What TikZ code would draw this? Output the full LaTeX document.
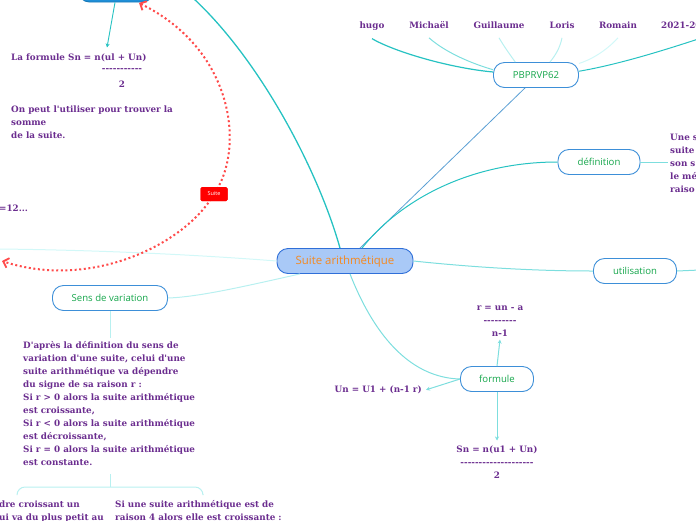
\documentclass[tikz,border=0pt]{standalone}
\usepackage{fontspec}
\newfontfamily\leaffont{DejaVu Serif}[Ligatures=TeXOff]
\newfontfamily\topicfont{Open Sans}
\usetikzlibrary{arrows.meta}
\definecolor{leafpurple}{HTML}{6B2D8F}
\definecolor{topicgreen}{HTML}{15A64B}
\definecolor{topicblue}{HTML}{3D8FD8}
\definecolor{centralfill}{HTML}{A9C9F7}
\definecolor{centralblue}{HTML}{2F6FD8}
\definecolor{centralorange}{HTML}{F5891F}
\definecolor{tealdark}{HTML}{26C2C2}
\definecolor{tealmid}{HTML}{7DDEDE}
\definecolor{teallight}{HTML}{B8F0F0}
\definecolor{tealpale}{HTML}{D2F8F8}
\definecolor{steel}{HTML}{5B9FD4}
\definecolor{relred}{HTML}{FF4A4A}
\definecolor{topfill}{HTML}{1E8FD8}
\tikzset{
	topic/.style={draw=topicblue,line width=0.9pt,fill=white,rounded corners=11pt,text=topicgreen,font=\topicfont\fontsize{9.6}{11}\selectfont,minimum height=25pt},
	central/.style={topic,fill=centralfill,draw=centralblue,text=centralorange,font=\topicfont\fontsize{11.4}{13}\selectfont},
	leaf/.style={text=leafpurple,font=\leaffont\bfseries\fontsize{8.8}{13}\selectfont,inner sep=0pt,align=left},
	branch/.style={line width=1pt},
	tip/.style={-{Stealth[length=4pt,width=4pt]}},
	rel/.style={draw=relred,line width=2pt,dash pattern=on 2pt off 2.6pt,{Straight Barb[length=5pt,width=10pt,line width=1.8pt]}-{Straight Barb[length=5pt,width=10pt,line width=1.8pt]}},
	tag/.style={fill=red,rounded corners=1.5pt,text=white,font=\topicfont\fontsize{5.5}{6}\selectfont,minimum width=27pt,minimum height=14pt,inner sep=0pt}
}

\begin{document}
\begin{tikzpicture}[x=1pt,y=-1pt]
\useasboundingbox (0,0) rectangle (696,520);
\clip (0,0) rectangle (696,520);
% topics
\node[central,minimum width=136pt] (suite) at (345,261) {Suite arithmétique};
\node[topic,minimum width=85pt] (pb) at (536,75) {PBPRVP62};
\node[topic,minimum width=82pt] (def) at (599,162) {définition};
\node[topic,minimum width=83pt] (util) at (635,271) {utilisation};
\node[topic,minimum width=73pt] (form) at (497,379) {formule};
\node[topic,minimum width=115pt] (sens) at (110,298) {Sens de variation};
\node[topic,fill=topfill,draw=topfill!85!black,minimum width=75pt,minimum height=28pt] (haut) at (116,-12) {};
\coordinate (hautout) at (193,-2);
\coordinate (leftout) at (-2,249);
\coordinate (utilout) at (700,270);
%
\foreach \nom/\x [count=\i] in {hugo/372,Michaël/429,Guillaume/499,Loris/562,Romain/618}
	\node[leaf,anchor=base] (n\i) at (\x,28.5) {\nom};
\node[leaf,anchor=base west] (n6) at (661,28.5) {2021-20};
%
\node[leaf,anchor=north west] (frmA) at (11,53.5) {La formule Sn = n(ul + Un)};
\node[leaf] (frmB) at (122,70) {-----------};
\node[leaf] (frmC) at (122,84) {2};
\node[leaf,anchor=north west] (frmD) at (11,105.5) {On peut l'utiliser pour trouver la\\somme\\de la suite.};
\node[leaf,anchor=west] (douze) at (-1,208) {=12...};
\node[leaf,anchor=north west] (deftxt) at (670,133.5) {Une s\\suite\\son s\\le mé\\raiso};
\node[leaf,anchor=north west] (vartxt) at (23,341.5) {D'après la définition du sens de\\variation d'une suite, celui d'une\\suite arithmétique va dépendre\\du signe de sa raison r :\\Si r > 0 alors la suite arithmétique\\est croissante,\\Si r < 0 alors la suite arithmétique\\est décroissante,\\Si r = 0 alors la suite arithmétique\\est constante.};
\node[leaf,anchor=north west] (ex1) at (-1,500.5) {dre croissant un\\ui va du plus petit au};
\node[leaf,anchor=north west] (ex2) at (115,500.5) {Si une suite arithmétique est de\\raison 4 alors elle est croissante :};
\node[leaf,align=center,anchor=north] (rform) at (500,305.5) {r = un - a\\---------\\n-1};
\node[leaf,anchor=base east] (unform) at (422,392.5) {Un = U1 + (n-1 r)};
\node[leaf,align=center,anchor=north] (snform) at (497,445.5) {Sn = n(u1 + Un)\\--------------------\\2};
%
\draw[branch,tealdark,line width=1.3pt] ([xshift=-5pt]suite.north) .. controls (318,170) and (260,60) .. (hautout);
\draw[branch,steel,line width=0.8pt] ([xshift=15pt]suite.north) to ([xshift=-11pt]pb.south);
\draw[branch,tealdark] ([xshift=17pt]suite.north) .. controls (400,200) and (470,162) .. (def.west);
\draw[branch,tealmid] (suite.east) .. controls (480,268) and (540,271) .. (util.west);
\draw[branch,teallight] ([xshift=-45pt]suite.south) .. controls (250,285) and (200,297) .. (sens.east);
\draw[branch,tealpale] (suite.west) .. controls (200,255) and (100,250) .. (leftout);
\draw[branch,tealmid] ([xshift=5pt]suite.south) .. controls (380,350) and (420,378) .. (form.west);
\draw[branch,tealmid] (util.east) to (utilout);
\draw[branch,tealmid] (def.east) to ([xshift=-2pt]deftxt.west |- def.east);
%
\draw[branch,tealdark,line width=1.2pt] ([yshift=-8pt]n1.south) .. controls (395,52) and (450,68) .. (pb.176);
\draw[branch,tealmid] ([yshift=-9pt]n2.south) .. controls (445,52) and (470,63) .. (pb.173);
\draw[branch,teallight] ([yshift=-9pt]n3.south) .. controls (505,48) and (511,56) .. (pb.148);
\draw[branch,teallight] ([yshift=-9pt]n4.south) .. controls (560,48) and (555,56) .. (pb.43);
\draw[branch,tealpale] ([yshift=-9pt]n5.south) .. controls (605,52) and (590,60) .. (pb.15);
\draw[branch,tealdark] ([yshift=-9pt]n6.south east) .. controls (650,55) and (610,66) .. (pb.5);
%
\draw[branch,tealmid,tip] (form.north) to ([yshift=-3pt]rform.south);
\draw[branch,tealmid,tip] (form.west) to ([xshift=4pt]unform.east);
\draw[branch,tealmid,tip] (form.south) to ([yshift=5pt]snform.north);
\draw[branch,tealdark,tip,line width=0.9pt] ([xshift=-1pt]haut.south) to ([yshift=6pt]frmA.north -| 107,0);
%
\draw[branch,teallight] (sens.south) to ([yshift=4pt]vartxt.north -| sens.south);
\draw[branch,teallight] ([yshift=-8pt]vartxt.south -| sens.south) to (110,487);
\draw[branch,teallight,rounded corners=8pt] (17,494) -- (17,487) -- (203,487) -- (203,494);
%
\coordinate (relA) at (139,3);
\coordinate (relB) at (2,261);
\node[tag] (suitetag) at (214,194) {Suite};
\draw[rel] (relA) .. controls (235,50) and (245,150) .. (suitetag.center) .. controls (185,245) and (90,290) .. (relB);
\node[tag] at (suitetag) {Suite};
\end{tikzpicture}
\end{document}
